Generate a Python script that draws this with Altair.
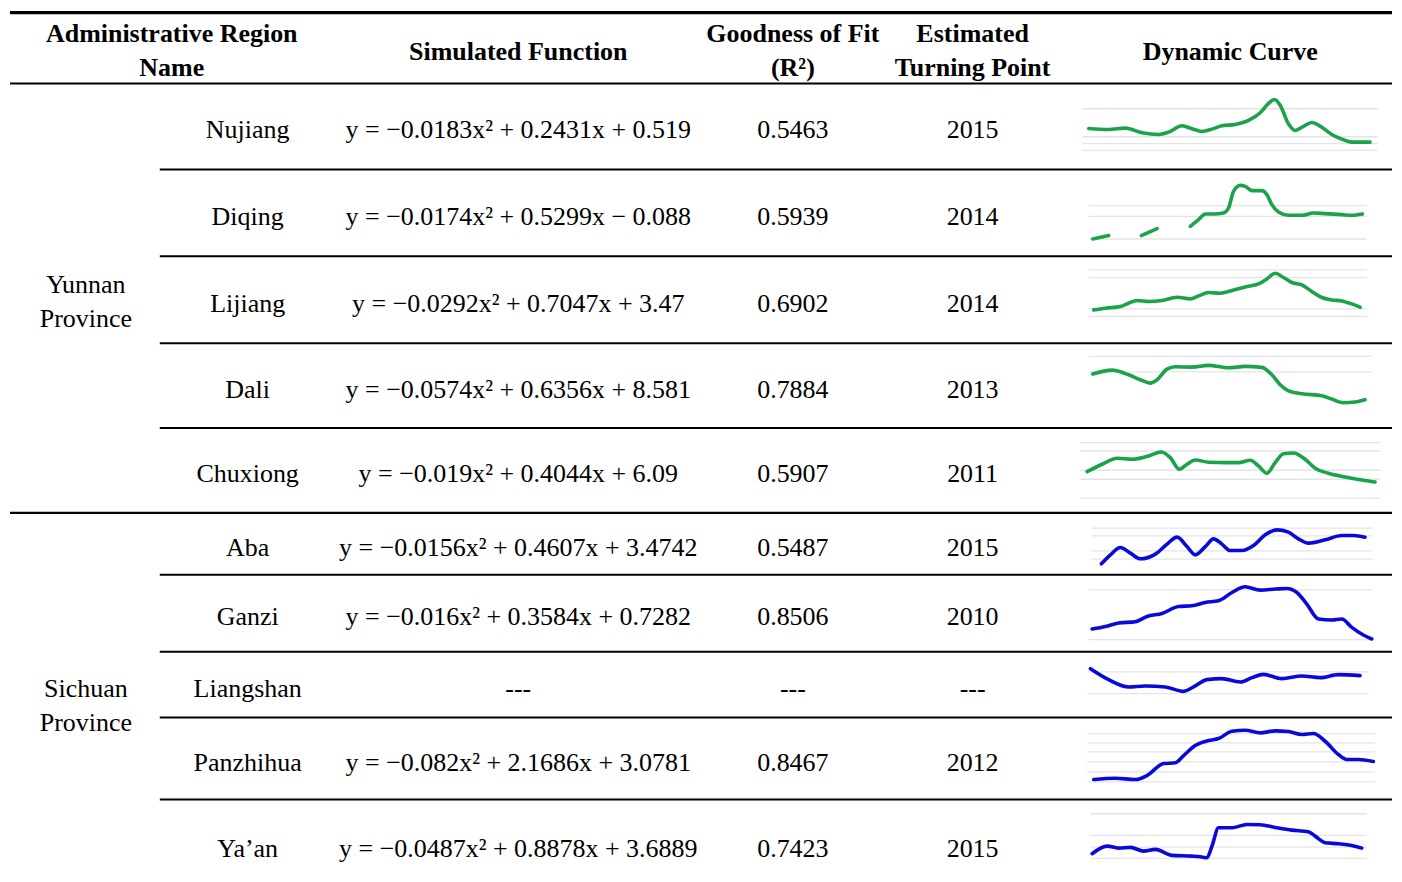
import altair as alt
import pandas as pd

FONT = "Liberation Serif"

# ---------------- table content ----------------
names = ["Nujiang", "Diqing", "Lijiang", "Dali", "Chuxiong",
         "Aba", "Ganzi", "Liangshan", "Panzhihua", "Ya\u2019an"]
provinces = [("Yunnan", "Province"), ("Sichuan", "Province")]
functions = [
    "y = \u22120.0183x\u00b2 + 0.2431x + 0.519",
    "y = \u22120.0174x\u00b2 + 0.5299x \u2212 0.088",
    "y = \u22120.0292x\u00b2 + 0.7047x + 3.47",
    "y = \u22120.0574x\u00b2 + 0.6356x + 8.581",
    "y = \u22120.019x\u00b2 + 0.4044x + 6.09",
    "y = \u22120.0156x\u00b2 + 0.4607x + 3.4742",
    "y = \u22120.016x\u00b2 + 0.3584x + 0.7282",
    "---",
    "y = \u22120.082x\u00b2 + 2.1686x + 3.0781",
    "y = \u22120.0487x\u00b2 + 0.8878x + 3.6889",
]
r2 = ["0.5463", "0.5939", "0.6902", "0.7884", "0.5907",
      "0.5487", "0.8506", "---", "0.8467", "0.7423"]
turning = ["2015", "2014", "2014", "2013", "2011",
           "2015", "2010", "---", "2012", "2015"]
headers = [
    ["Administrative Region", "Name"],
    ["Simulated Function"],
    ["Goodness of Fit", "(R\u00b2)"],
    ["Estimated", "Turning Point"],
    ["Dynamic Curve"],
]

# ---------------- sparkline series (position along curve, level) ----------------
spark_t = {
    "Nujiang": [13.3, 33.3, 50, 66.7, 83.3, 93.3, 106.7, 116.7, 126.7, 136.7, 146.7, 160, 173.3,
                185, 193.3, 199.3, 205, 213.3, 220, 228.3, 236.7, 245, 256.7, 266.7, 276.7, 295],
    "Diqing": [17.3, 33.3, 66, 81.7, 115, 123.3, 130, 138.3, 148.3, 153.3, 158.3, 165, 170, 176.7,
               186.7, 191.7, 196.7, 203.3, 213.3, 226.7, 238.3, 250, 266.7, 276.7, 287.3],
    "Lijiang": [18.3, 30, 45, 53.3, 61.7, 73.3, 86.7, 101.7, 115, 123.3, 133.3, 145, 156.7, 170,
                183.3, 191.7, 200, 208.3, 216.7, 226.7, 236.7, 246.7, 256.7, 266.7, 276.7, 285],
    "Dali": [17.3, 36.7, 53.3, 65, 75, 81.7, 91.7, 100, 116.7, 133.3, 153.3, 170, 186.7, 196.7,
             205, 213.3, 226.7, 246.7, 256.7, 268.3, 280, 290],
    "Chuxiong": [11.7, 26.7, 41.7, 56.7, 73.3, 86, 95, 104, 111.7, 120, 133.3, 150, 163.3, 175,
                 183.3, 191.7, 200, 208.3, 218.3, 230, 240, 253.3, 270, 286.7, 300],
    "Aba": [26, 35, 45, 55, 65, 80, 91.7, 101.7, 111.7, 120, 130, 138.3, 146.7, 155, 166.7, 178.3,
            190, 201.7, 213.3, 223.3, 233.3, 250, 266.7, 278.3, 290],
    "Ganzi": [16.7, 30, 43.3, 60, 71.7, 86.7, 103.3, 116.7, 130, 143.3, 156.7, 170, 185, 200,
              211.7, 221.7, 231.7, 243.3, 256.7, 266.7, 276.7, 288.3, 296.7],
    "Liangshan": [15, 33.3, 53.3, 70, 90, 108.3, 118.3, 131.7, 146.7, 165, 176.7, 188.3, 206.7,
                  226.7, 245, 263.3, 285],
    "Panzhihua": [18.3, 40, 60, 71.7, 88.3, 100, 108.3, 120, 133.3, 143.3, 156.7, 170, 185, 200,
                  213.3, 226.7, 238.3, 250, 263.3, 271.7, 283.3, 298.3],
    "Ya\u2019an": [16.7, 31.7, 43.3, 55, 68.3, 80, 96.7, 116.7, 125, 131.7, 136.7, 143.3, 156.7,
                   171.7, 185, 200, 216.7, 233.3, 240, 250, 263.3, 276.7, 286.7],
}
spark_v = {
    "Nujiang": [41, 40, 41.3, 36.7, 35, 37.3, 43.7, 40.7, 38, 40.3, 43.7, 45, 49,
                56.7, 66, 70, 64.3, 45.7, 39, 43, 47, 43.3, 35, 30.3, 27.3, 27.3],
    "Diqing": [17.3, 20.7, 20.7, 27.7, 30, 36.7, 42.3, 42.3, 43.3, 48.3, 65, 71, 70, 65.7,
               65.7, 61.7, 51.7, 44.3, 41, 41, 43.3, 42.7, 41.7, 41, 42.3],
    "Lijiang": [33.3, 35, 36.7, 40, 42.7, 41.7, 42.7, 46, 44.3, 47.3, 50.7, 50, 52.7, 56.3,
                59.3, 64.3, 70, 65.7, 60.7, 58.3, 51.7, 45.7, 43.3, 42.3, 39.3, 36],
    "Dali": [54, 58, 53.3, 48.3, 45, 48.3, 59, 61.3, 61, 62.7, 60.3, 61.7, 60.7, 53.3,
             43.3, 37.3, 34.3, 32.3, 29, 25.3, 26, 28.3],
    "Chuxiong": [41.3, 48.7, 54.7, 53.7, 57, 61, 55.3, 43.7, 48.7, 53, 50.7, 50.3, 50.3, 52.7,
                 47, 39.7, 50.3, 59.3, 60, 53.7, 44.7, 39.7, 36, 33, 31],
    "Aba": [11, 20, 27.3, 21.7, 16, 20.7, 30.7, 37.7, 28.3, 20, 28.3, 36, 30.7, 24.3, 24.3, 29.3,
            40, 45, 42.7, 36, 31.7, 35, 39.3, 39.3, 37.7],
    "Ganzi": [22.7, 25.3, 28.7, 30, 35.3, 38.3, 45.3, 46, 49.3, 51, 59.3, 65, 61.7, 62.7,
              63.3, 59.3, 47.7, 32.7, 31.7, 32.7, 24.3, 16.7, 12.7],
    "Liangshan": [49, 38, 30.7, 31.7, 30.7, 26.3, 30.7, 38, 39, 35.7, 40, 43.3, 39,
                  41.7, 40, 43, 42],
    "Panzhihua": [20, 21.3, 20, 24, 36, 36.7, 44, 54, 59, 61, 68.3, 69.3, 66.7, 68.7,
                  68, 65, 66, 58.3, 45, 40, 40, 38],
    "Ya\u2019an": [27.7, 35.3, 33.3, 34, 30.3, 32, 26, 25.3, 24.7, 23.7, 35.3, 53.7, 53.7,
                   57, 56.7, 54, 51.3, 49.7, 45.3, 38.7, 37.7, 36, 33.3],
}
# Diqing curve is broken into pieces (missing years)
spark_seg = {"Diqing": [0, 0, 1, 1] + [2] * 21}
# faint background gridlines of each small chart (levels, start, end)
spark_grid = {
    "Nujiang": ([60.7, 32.7, 25.7, 19], 6.7, 302.7),
    "Diqing": ([50.7, 40, 17.3], 13.3, 291.7),
    "Lijiang": ([73.3, 65.7, 34.3, 26.7], 13.3, 291.7),
    "Dali": ([71.7, 56.3], 13.3, 296.7),
    "Chuxiong": ([70.3, 62, 42.7, 33.7, 14.7], 5, 305),
    "Aba": ([46.7, 39, 24, 15.7], 16.7, 296.7),
    "Ganzi": ([62, 12], 13.3, 296.7),
    "Liangshan": ([45.7, 24], 11.7, 293.3),
    "Panzhihua": ([66, 56.7, 47.7, 37.7, 27.7, 17.7], 11.7, 300),
    "Ya\u2019an": ([67.7, 46, 34.3, 23], 15, 291.7),
}
GREEN = "#1ba24b"
BLUE = "#0a0ad8"

# ---------------- layout ----------------
W, H = 1382, 858
X0, Y0 = 10, 8
X1, Y1 = X0 + W, Y0 + H
row_edges = [83, 169, 256, 343, 428, 513, 575, 652, 718, 800, 892]  # last row runs off the page
curve_bottoms = row_edges[1:-1] + [882]
top_rule = 12
rule_left = 8
col_x = {"prov": 84, "name": 246, "func": 517, "r2": 792, "tp": 972, "curve": 1230}
header_cols = [170, 517, 792, 972, 1230]
curve_left = 1075
inner_left = 158
text_drop = 12  # baseline below row middle

# ---------------- build frames ----------------
body = []
for i, n in enumerate(names):
    mid = (row_edges[i] + row_edges[i + 1]) / 2 + text_drop
    for key, val in (("name", n), ("func", functions[i]), ("r2", r2[i]), ("tp", turning[i])):
        body.append({"x": col_x[key], "y": mid, "t": val})
for p, (first, last) in enumerate([(0, 5), (5, 10)]):
    mid = (row_edges[first] + row_edges[last]) / 2
    body.append({"x": col_x["prov"], "y": mid - 17 + text_drop, "t": provinces[p][0]})
    body.append({"x": col_x["prov"], "y": mid + 17 + text_drop, "t": provinces[p][1]})
body_df = pd.DataFrame(body)

head = []
hmid = (top_rule + row_edges[0]) / 2
for cx, lines in zip(header_cols, headers):
    if len(lines) == 1:
        head.append({"x": cx, "y": hmid + 12, "t": lines[0]})
    else:
        head.append({"x": cx, "y": hmid - 6, "t": lines[0]})
        head.append({"x": cx, "y": hmid + 28, "t": lines[1]})
head_df = pd.DataFrame(head)

rules = [{"x": rule_left, "x2": X1, "y": top_rule, "w": 3.2},
         {"x": rule_left, "x2": X1, "y": row_edges[0], "w": 2.2},
         {"x": rule_left, "x2": X1, "y": row_edges[5], "w": 2.2}]
for k in [1, 2, 3, 4, 6, 7, 8, 9]:
    rules.append({"x": inner_left, "x2": X1, "y": row_edges[k], "w": 2})
rules_df = pd.DataFrame(rules)

grid, pts = [], []
for i, n in enumerate(names):
    bottom = curve_bottoms[i]
    levels, gs, ge = spark_grid[n]
    for lv in levels:
        grid.append({"x": curve_left + gs, "x2": curve_left + ge, "y": bottom - lv})
    segs = spark_seg.get(n, [0] * len(spark_t[n]))
    col = GREEN if i < 5 else BLUE
    for j, (t, v) in enumerate(zip(spark_t[n], spark_v[n])):
        pts.append({"x": curve_left + t, "y": bottom - v, "key": f"{n}-{segs[j]}",
                    "o": j, "c": col})
grid_df = pd.DataFrame(grid)
pts_df = pd.DataFrame(pts)

xs = alt.Scale(domain=[X0, X1], nice=False, zero=False)
ys = alt.Scale(domain=[Y0, Y1], nice=False, zero=False, reverse=True)
X = lambda f="x": alt.X(f"{f}:Q", scale=xs, axis=None)
Y = alt.Y("y:Q", scale=ys, axis=None)

grid_layer = alt.Chart(grid_df).mark_rule(color="#e4e4e4", strokeWidth=1.3).encode(
    x=X(), x2="x2:Q", y=Y)
line_layer = alt.Chart(pts_df).mark_line(
    interpolate="monotone", strokeWidth=3.6, strokeCap="round", strokeJoin="round").encode(
    x=X(), y=Y, detail="key:N", order="o:Q", color=alt.Color("c:N", scale=None))
rule_layer = alt.Chart(rules_df).mark_rule(color="#000000").encode(
    x=X(), x2="x2:Q", y=Y, strokeWidth=alt.StrokeWidth("w:Q", scale=None))
body_layer = alt.Chart(body_df).mark_text(
    font=FONT, fontSize=26, color="#000000", align="center", baseline="alphabetic").encode(
    x=X(), y=Y, text="t:N")
head_layer = alt.Chart(head_df).mark_text(
    font=FONT, fontSize=26, fontWeight="bold", color="#000000", align="center",
    baseline="alphabetic").encode(x=X(), y=Y, text="t:N")

chart = alt.layer(grid_layer, line_layer, rule_layer, body_layer, head_layer).properties(
    width=W, height=H, padding=0, background="#ffffff"
).configure_view(strokeWidth=0)

chart.save("out.html", embed_options={"renderer": "svg", "actions": False})
